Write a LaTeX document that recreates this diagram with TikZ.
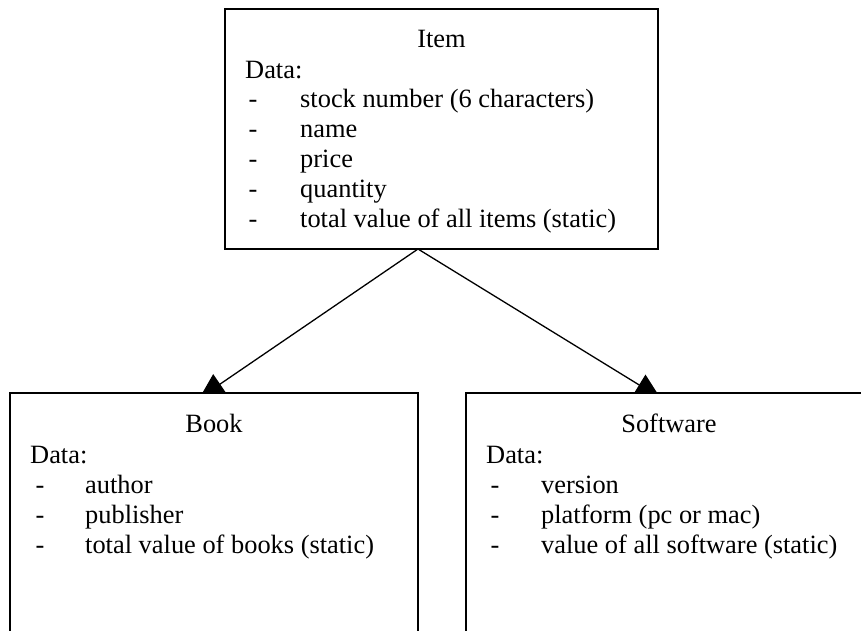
\documentclass[tikz,border=0pt]{standalone}
\usepackage{fontspec}
\setmainfont{Liberation Serif}
\usetikzlibrary{arrows.meta,backgrounds}
\begin{document}
\begin{tikzpicture}[x=1pt,y=-1pt,
  box/.style={draw=black,line width=1.3pt,fill=white,rectangle,inner sep=0pt},
  txt/.style={inner sep=0pt,font=\fontsize{26.4}{30}\selectfont},
  conn/.style={draw=black,line width=1.3pt,-{Triangle[length=25pt,width=24pt]}}]
\useasboundingbox (0,0) rectangle (861,630);
\clip (0,0) rectangle (861,630);
% boxes
\node[box,minimum width=433pt,minimum height=240pt] (item) at (441.5,129) {};
\node[box,minimum width=408pt,minimum height=260pt] (book) at (214,523) {};
\node[box,minimum width=414pt,minimum height=260pt] (soft) at (673,523) {};
% Item text
\node[txt,anchor=base] (itemT) at (441.5,47) {Item};
\node[txt,anchor=base west] (itemD) at (245,78) {Data:};
\node[txt,anchor=base] (id1) at (253,107) {-};
\node[txt,anchor=base west] (it1) at (300,107) {stock number (6 characters)};
\node[txt,anchor=base] (id2) at (253,137) {-};
\node[txt,anchor=base west] (it2) at (300,137) {name};
\node[txt,anchor=base] (id3) at (253,167) {-};
\node[txt,anchor=base west] (it3) at (300,167) {price};
\node[txt,anchor=base] (id4) at (253,197) {-};
\node[txt,anchor=base west] (it4) at (300,197) {quantity};
\node[txt,anchor=base] (id5) at (253,227) {-};
\node[txt,anchor=base west] (it5) at (300,227) {total value of all items (static)};
% Book text
\node[txt,anchor=base] (bookT) at (214,432) {Book};
\node[txt,anchor=base west] (bookD) at (30,463) {Data:};
\node[txt,anchor=base] (bd1) at (40,493) {-};
\node[txt,anchor=base west] (bt1) at (85,493) {author};
\node[txt,anchor=base] (bd2) at (40,523) {-};
\node[txt,anchor=base west] (bt2) at (85,523) {publisher};
\node[txt,anchor=base] (bd3) at (40,553) {-};
\node[txt,anchor=base west] (bt3) at (85,553) {total value of books (static)};
% Software text
\node[txt,anchor=base] (softT) at (669,432) {Software};
\node[txt,anchor=base west] (softD) at (486,463) {Data:};
\node[txt,anchor=base] (sd1) at (495,493) {-};
\node[txt,anchor=base west] (st1) at (541,493) {version};
\node[txt,anchor=base] (sd2) at (495,523) {-};
\node[txt,anchor=base west] (st2) at (541,523) {platform (pc or mac)};
\node[txt,anchor=base] (sd3) at (495,553) {-};
\node[txt,anchor=base west] (st3) at (541,553) {value of all software (static)};
% connectors (behind boxes)
\coordinate (apex) at (418,249);
\coordinate (tipL) at (199.4,398.2);
\coordinate (tipR) at (660.4,398);
\begin{pgfonlayer}{background}
\draw[conn] (apex) -- (tipL);
\draw[conn] (apex) -- (tipR);
\end{pgfonlayer}
\end{tikzpicture}
\end{document}
